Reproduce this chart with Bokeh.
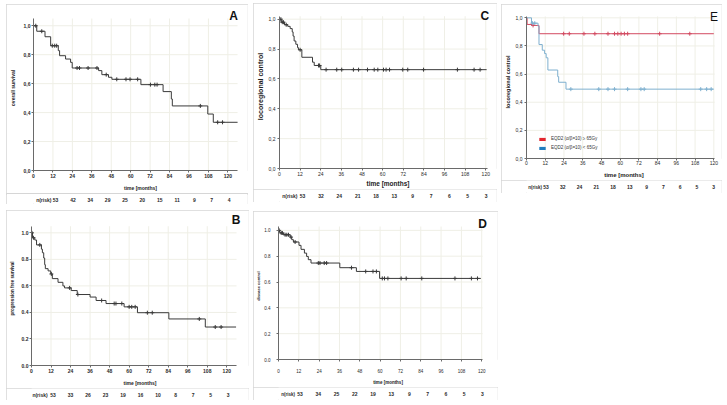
import numpy as np
from bokeh.plotting import figure
from bokeh.layouts import row, column
from bokeh.models import FixedTicker, Legend, LegendItem, Range1d, Spacer
from bokeh.embed import file_html
from bokeh.resources import INLINE
from bokeh.core.properties import value

FONT = "Liberation Sans"

TIME_TICKS = [0, 12, 24, 36, 48, 60, 72, 84, 96, 108, 120]
SURV_TICKS = [0.0, 0.2, 0.4, 0.6, 0.8, 1.0]
SURV_LABELS_COMMA = ["0,0", "0,2", "0,4", "0,6", "0,8", "1,0"]
SURV_LABELS_DOT = ["0.0", "0.2", "0.4", "0.6", "0.8", "1.0"]
X_TITLE = "time [months]"
RISK_TITLE = "n(risk)"

# ---- A: overall survival
A_time = [0, 2.0, 7.1, 10.6, 15.3, 16.1, 19.8, 22.9, 23.9, 40.2, 42.2, 46.3, 48.4, 66.3, 80.0, 85.1, 85.7, 107.6, 111.0, 126.0]
A_surv = [1.0, 0.962, 0.924, 0.862, 0.828, 0.793, 0.77, 0.747, 0.708, 0.69, 0.662, 0.644, 0.63, 0.593, 0.545, 0.494, 0.446, 0.39, 0.333, 0.333]
A_cens = [1.4, 5.1, 11.6, 13.1, 14.3, 26.9, 28.4, 33.7, 39.2, 44.9, 51.4, 57.1, 59.6, 64.3, 72.2, 74.9, 76.3, 103.0, 113.7, 116.7]
A_risk = [53, 42, 34, 29, 25, 20, 15, 11, 9, 7, 4]

# ---- B: progression free survival
B_time = [0, 0.6, 2.0, 3.1, 6.1, 6.7, 7.5, 8.1, 8.5, 10.2, 11.8, 12.8, 16.3, 19.3, 20.3, 24.4, 28.1, 36.0, 39.7, 45.8, 56.9, 65.1, 84.4, 106.8, 125.7]
B_surv = [1.0, 0.963, 0.946, 0.909, 0.877, 0.85, 0.81, 0.76, 0.73, 0.713, 0.69, 0.655, 0.627, 0.60, 0.585, 0.565, 0.535, 0.516, 0.49, 0.467, 0.442, 0.398, 0.351, 0.29, 0.29]
B_cens = [0.3, 1.2, 5.1, 12.2, 23.4, 28.5, 43.1, 50.8, 51.9, 55.5, 60.0, 61.6, 63.7, 71.2, 74.2, 103.1, 112.9, 116.5]
B_risk = [53, 33, 26, 23, 19, 16, 10, 8, 7, 5, 3]

# ---- C: locoregional control
C_time = [0, 1.0, 2.9, 4.8, 6.2, 7.4, 7.9, 8.5, 9.5, 10.5, 11.0, 13.0, 19.2, 20.2, 24.0, 120.5]
C_surv = [1.0, 0.98, 0.963, 0.952, 0.937, 0.915, 0.887, 0.854, 0.832, 0.81, 0.795, 0.745, 0.712, 0.69, 0.662, 0.662]
C_cens = [0.8, 1.6, 2.3, 3.9, 12.0, 22.7, 23.3, 27.1, 33.3, 36.2, 43.0, 46.0, 51.2, 55.1, 57.2, 60.5, 62.0, 64.0, 71.7, 74.6, 83.8, 103.5, 113.2, 116.7]
C_risk = [53, 32, 24, 21, 18, 13, 9, 7, 6, 5, 3]

# ---- D: disease control
D_time = [0, 0.6, 1.0, 2.9, 6.9, 7.8, 8.8, 12.1, 13.3, 15.3, 16.6, 17.6, 19.2, 36.2, 46.0, 59.7, 119.5]
D_surv = [1.0, 0.987, 0.98, 0.966, 0.948, 0.928, 0.91, 0.884, 0.853, 0.824, 0.798, 0.773, 0.747, 0.711, 0.682, 0.628, 0.628]
D_cens = [0.4, 1.6, 2.3, 3.9, 4.9, 5.9, 7.4, 9.8, 23.5, 24.5, 27.0, 28.4, 43.1, 51.5, 55.8, 57.8, 61.3, 62.6, 64.6, 72.4, 75.4, 84.6, 104.2, 113.9, 117.5]
D_risk = [53, 34, 25, 22, 19, 13, 9, 7, 6, 5, 3]

# ---- E: locoregional control by EQD2
E_hi_label = "EQD2 (α/β=10) ≥ 65Gy"
E_hi_time = [0, 0.4, 3.8, 8.0, 120.0]
E_hi_surv = [1.0, 0.953, 0.946, 0.887, 0.887]
E_hi_cens = [4.2, 23.8, 27.4, 36.8, 43.8, 52.2, 56.4, 58.5, 60.6, 62.7, 64.8, 85.3, 104.6]
E_lo_label = "EQD2 (α/β=10) < 65Gy"
E_lo_time = [0, 3.2, 7.4, 8.0, 10.1, 11.6, 12.6, 13.7, 20.0, 20.6, 25.3, 120.0]
E_lo_surv = [1.0, 0.962, 0.94, 0.81, 0.77, 0.746, 0.716, 0.629, 0.582, 0.542, 0.493, 0.493]
E_lo_cens = [3.8, 5.3, 28.4, 46.3, 52.2, 56.4, 64.8, 73.3, 75.4, 111.6, 115.4, 118.3]
E_risk = [53, 32, 24, 21, 18, 13, 9, 7, 6, 5, 3]

BOX = "#d6d6d6"
GRID = "#efefe6"
AXIS = "#6a6a6a"
INK = "#3a3a3a"


def step_at(times, surv, t):
    idx = np.searchsorted(np.asarray(times), np.asarray(t), side="right") - 1
    return np.asarray(surv)[idx]


def make_panel(cfg):
    W, H, sep = cfg["W"], cfg["H"], cfg["sep"]
    L, R, T, B = cfg["borders"]
    x_end, y_end = cfg["x_end"], cfg["y_end"]
    fw, fh = W - L - R, sep - T - B          # plotting area spanned by the axes
    ppm, ppu = fw / x_end, fh / y_end          # px per month, px per unit
    R2, T2 = 1, 1                              # frame reaches the box edge (room for the panel letter)
    x_top = x_end + (R - R2) / ppm
    y_top = y_end + (T - T2) / ppu

    p = figure(width=W, height=sep, x_range=Range1d(0, x_top), y_range=Range1d(0, y_top),
               output_backend="svg", toolbar_location=None,
               min_border_left=L, min_border_right=R2, min_border_top=T2, min_border_bottom=B)
    p.outline_line_color = None
    p.background_fill_color = "white"
    p.border_fill_color = "white"
    p.grid.visible = False

    # faint grid limited to the axes' extent
    p.segment(x0=TIME_TICKS, y0=[0] * len(TIME_TICKS), x1=TIME_TICKS, y1=[y_end] * len(TIME_TICKS),
              line_color=GRID, line_width=1)
    p.segment(x0=[0] * len(SURV_TICKS), y0=SURV_TICKS, x1=[x_end] * len(SURV_TICKS), y1=SURV_TICKS,
              line_color=GRID, line_width=1)

    xa, ya = p.xaxis[0], p.yaxis[0]
    xa.ticker = FixedTicker(ticks=TIME_TICKS)
    ya.ticker = FixedTicker(ticks=SURV_TICKS)
    xa.bounds = (0, x_end)
    ya.bounds = (0, y_end)
    ya.major_label_overrides = dict(zip(SURV_TICKS, cfg["ylabels"]))
    for ax, std, lstd in ((xa, cfg["xstand"], cfg["xlstand"]), (ya, cfg["ystand"], cfg["ylstand"])):
        ax.axis_line_color = AXIS
        ax.axis_line_width = 1
        ax.major_tick_line_color = AXIS
        ax.major_tick_out = 2
        ax.major_tick_in = 0
        ax.minor_tick_line_color = None
        ax.major_label_standoff = std
        ax.major_label_text_font = FONT
        ax.major_label_text_font_size = cfg["tick_fs"]
        ax.major_label_text_font_style = cfg["tick_style"]
        ax.major_label_text_color = "#2a2a2a"
        ax.axis_label_standoff = lstd
        ax.axis_label_text_font = FONT
        ax.axis_label_text_font_style = "bold"
        ax.axis_label_text_color = "#222222"
    xa.axis_label = X_TITLE
    xa.axis_label_text_font_size = cfg["xlab_fs"]
    ya.axis_label = cfg["ytitle"]
    ya.axis_label_text_font_size = cfg["ylab_fs"]

    for cv in cfg["curves"]:
        p.step(cv["t"], cv["s"], mode="after", line_color=cv["color"], line_width=1)
        p.scatter(cv["c"], step_at(cv["t"], cv["s"], cv["c"]), marker="cross", size=4,
                  line_color=cv["color"], line_width=1)

    if cfg.get("legend"):
        items = []
        for lab, col in cfg["legend"]:
            r = p.quad(left=[np.nan], right=[np.nan], bottom=[np.nan], top=[np.nan],
                       fill_color=col, line_color=None)
            items.append(LegendItem(label=lab, renderers=[r]))
        lg = Legend(items=items, location=cfg["legend_loc"], padding=0, margin=0, spacing=4,
                    glyph_width=8, glyph_height=4, label_height=5, label_standoff=5,
                    label_text_font=FONT, label_text_font_size="4.5px", label_text_color="#333333",
                    border_line_color=None, background_fill_alpha=0)
        p.add_layout(lg)

    lx, ly = cfg["letter"]
    p.text(x=[(lx - L) / ppm], y=[(T + fh - ly) / ppu], text=[cfg["name"]],
           text_font=value(FONT), text_font_size=value("12px"), text_font_style=cfg["letter_style"],
           text_align="center", text_baseline="middle", text_color="#111111")

    # n(risk) row
    rh = H - sep
    r = figure(width=W, height=rh, x_range=Range1d(-L / ppm, x_end + R / ppm), y_range=Range1d(0, 1),
               output_backend="svg", toolbar_location=None, x_axis_type=None, y_axis_type=None,
               min_border_left=0, min_border_right=0, min_border_top=0, min_border_bottom=0,
               styles={"outline": f"1px solid {BOX}", "outline-offset": "-1px"})
    r.outline_line_color = None
    r.grid.visible = False
    r.background_fill_color = "white"
    r.border_fill_color = "white"
    r.text(x=TIME_TICKS, y=[0.5] * len(TIME_TICKS), text=[str(n) for n in cfg["risk"]],
           text_font=value(FONT), text_font_size=value(cfg["risk_fs"]), text_font_style=cfg["risk_style"],
           text_align="center", text_baseline="middle", text_color="#2a2a2a")
    r.text(x=[-L / ppm + cfg["risk_pad"] / ppm], y=[0.5], text=[RISK_TITLE],
           text_font=value(FONT), text_font_size=value(cfg["risk_title_fs"]), text_font_style=cfg["risk_style"],
           text_align="left", text_baseline="middle", text_color="#2a2a2a")

    return column(p, r, styles={"outline": f"1px solid {BOX}", "outline-offset": "-1px"})


base = dict(tick_style="bold", risk_style="bold", letter_style="bold", risk_pad=3, risk_title_fs="5px")

cfgA = dict(base, name="A", W=242, H=200, sep=189, borders=(25, 11, 14, 23), x_end=126, y_end=1.05,
            ylabels=SURV_LABELS_COMMA, ytitle="overall survival", tick_fs="5px", xlab_fs="5px", ylab_fs="5px",
            xstand=1, xlstand=4, ystand=1, ylstand=5, risk=A_risk, risk_fs="5px",
            letter=(227, 11),
            curves=[dict(t=A_time, s=A_surv, c=A_cens, color=INK)])
cfgB = dict(base, name="B", W=243, H=190, sep=178, borders=(24, 13, 16, 20), x_end=126, y_end=1.05,
            ylabels=SURV_LABELS_DOT, ytitle="progression free survival", tick_fs="5px", xlab_fs="5px", ylab_fs="4.5px",
            xstand=1, xlstand=4, ystand=1, ylstand=4, risk=B_risk, risk_fs="5px", risk_pad=1,
            letter=(229.5, 9.7),
            curves=[dict(t=B_time, s=B_surv, c=B_cens, color=INK)])
cfgC = dict(base, name="C", W=244, H=199, sep=186, borders=(26, 10, 13, 17), x_end=121, y_end=1.02,
            ylabels=SURV_LABELS_COMMA, ytitle="locoregional control", tick_fs="5px", xlab_fs="6.5px", ylab_fs="7px",
            xstand=1, xlstand=1, ystand=2, ylstand=2, risk=C_risk, risk_fs="5px",
            letter=(231.3, 12.8), tick_style="normal",
            curves=[dict(t=C_time, s=C_surv, c=C_cens, color=INK)])
cfgD = dict(base, name="D", W=245, H=189, sep=176, borders=(24, 16, 15, 28), x_end=120.5, y_end=1.03,
            ylabels=SURV_LABELS_DOT, ytitle="disease control", tick_fs="4.5px", xlab_fs="4.5px", ylab_fs="4px",
            xstand=7, xlstand=4, ystand=6, ylstand=0, risk=D_risk, risk_fs="5px", risk_pad=3,
            risk_title_fs="4.5px", letter=(229, 12.7), tick_style="normal",
            curves=[dict(t=D_time, s=D_surv, c=D_cens, color=INK)])
cfgE = dict(base, name="E", W=221, H=189, sep=176, borders=(22, 8, 12, 21), x_end=120.5, y_end=1.01,
            ylabels=SURV_LABELS_COMMA, ytitle="locoregional control", tick_fs="5px", xlab_fs="6px", ylab_fs="5.5px",
            xstand=0, xlstand=4, ystand=2, ylstand=2, risk=E_risk, risk_fs="5px", risk_pad=2,
            risk_title_fs="4.5px", letter=(212.3, 12.7), tick_style="normal", letter_style="normal",
            legend=[(E_hi_label, "#e3262e"), (E_lo_label, "#1f7dbf")], legend_loc=(12, 8),
            curves=[dict(t=E_hi_time, s=E_hi_surv, c=E_hi_cens, color="#d24a60"),
                    dict(t=E_lo_time, s=E_lo_surv, c=E_lo_cens, color="#7fb0cf")])

col1 = column(Spacer(width=1, height=1), make_panel(cfgA), Spacer(width=1, height=6), make_panel(cfgB))
col2 = column(make_panel(cfgC), Spacer(width=1, height=9), make_panel(cfgD))
col3 = column(Spacer(width=1, height=1), make_panel(cfgE))
root = row(col1, Spacer(width=4, height=1), col2, Spacer(width=3, height=1), col3,
           styles={"position": "relative", "left": "6px", "top": "3px"})

open("out.html", "w").write(file_html(root, INLINE))
